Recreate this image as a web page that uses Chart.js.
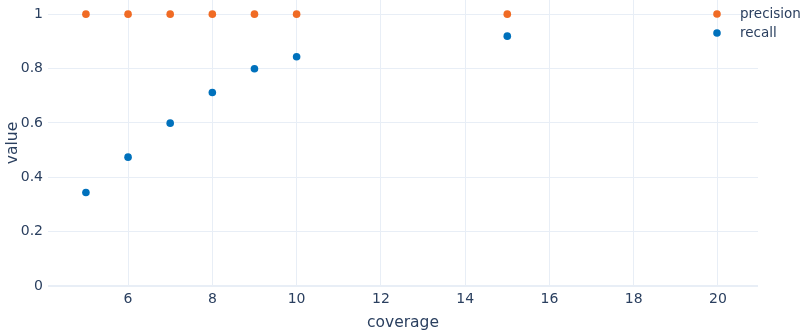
<!DOCTYPE html>
<html>
<head>
<meta charset="utf-8">
<script src="https://cdn.jsdelivr.net/npm/chart.js@4/dist/chart.umd.min.js"></script>
<style>
html,body{margin:0;padding:0;background:#fff;}
#wrap{width:806px;height:332px;position:relative;}
</style>
</head>
<body>
<div id="wrap"><canvas id="c" width="806" height="332"></canvas></div>
<script>
const coverage = [5, 6, 7, 8, 9, 10, 15];
const precision = [1, 1, 1, 1, 1, 1, 1];
const recall = [0.344, 0.474, 0.599, 0.712, 0.799, 0.843, 0.919];
const seriesNames = ['precision', 'recall'];
const seriesColors = ['#f06b24', '#0071bc'];
const xTitle = 'coverage';
const yTitle = 'value';

const FONT = 'DejaVu Sans';
const TXT = '#2a3f5f';
const GRID = '#e8eef6';

const legendPlugin = {
  id: 'customLegend',
  afterDraw(chart) {
    const ctx = chart.ctx;
    ctx.save();
    chart.data.datasets.forEach((ds, i) => {
      const y = 14 + i * 19;
      ctx.beginPath();
      ctx.fillStyle = ds.backgroundColor;
      ctx.arc(717, y, 3.8, 0, Math.PI * 2);
      ctx.fill();
      ctx.fillStyle = TXT;
      ctx.font = '13.5px "' + FONT + '"';
      ctx.textBaseline = 'middle';
      ctx.textAlign = 'left';
      ctx.fillText(ds.label, 740, y + 0.5);
    });
    ctx.restore();
  }
};

const mk = (vals) => coverage.map((x, i) => ({x: x, y: vals[i]}));

new Chart(document.getElementById('c'), {
  type: 'scatter',
  data: {
    datasets: [
      {label: seriesNames[0], data: mk(precision), backgroundColor: seriesColors[0], borderColor: seriesColors[0], pointRadius: 3.8, borderWidth: 0},
      {label: seriesNames[1], data: mk(recall), backgroundColor: seriesColors[1], borderColor: seriesColors[1], pointRadius: 3.8, borderWidth: 0}
    ]
  },
  options: {
    responsive: false,
    animation: false,
    devicePixelRatio: 1,
    layout: {autoPadding: false, padding: {left: 0, right: 48, top: 0, bottom: 0}},
    plugins: {legend: {display: false}, tooltip: {enabled: false}},
    scales: {
      x: {
        type: 'linear', min: 4.1, max: 20.95,
        afterFit(s) { s.height = 46; s.paddingLeft = 0; s.paddingRight = 0; },
        border: {display: false},
        grid: {color: GRID, lineWidth: 1, drawTicks: false},
        ticks: {stepSize: 2, includeBounds: false, padding: 5, color: TXT, font: {family: FONT, size: 14}},
        title: {display: true, text: xTitle, color: TXT, font: {family: FONT, size: 15.5}, padding: {top: 5, bottom: 0}}
      },
      y: {
        type: 'linear', min: 0, max: 1.052,
        afterFit(s) { s.width = 48; s.paddingTop = 0; s.paddingBottom = 0; },
        border: {display: false},
        grid: {color: GRID, lineWidth: (c) => c.tick && c.tick.value === 0 ? 2 : 1, drawTicks: false},
        ticks: {stepSize: 0.2, includeBounds: false, padding: 5, color: TXT, font: {family: FONT, size: 14},
          callback: (v) => Math.round(v * 10) / 10 + ''},
        title: {display: true, text: yTitle, color: TXT, font: {family: FONT, size: 15.5}, padding: {top: 4, bottom: 0}}
      }
    }
  },
  plugins: [legendPlugin]
});
</script>
</body>
</html>
